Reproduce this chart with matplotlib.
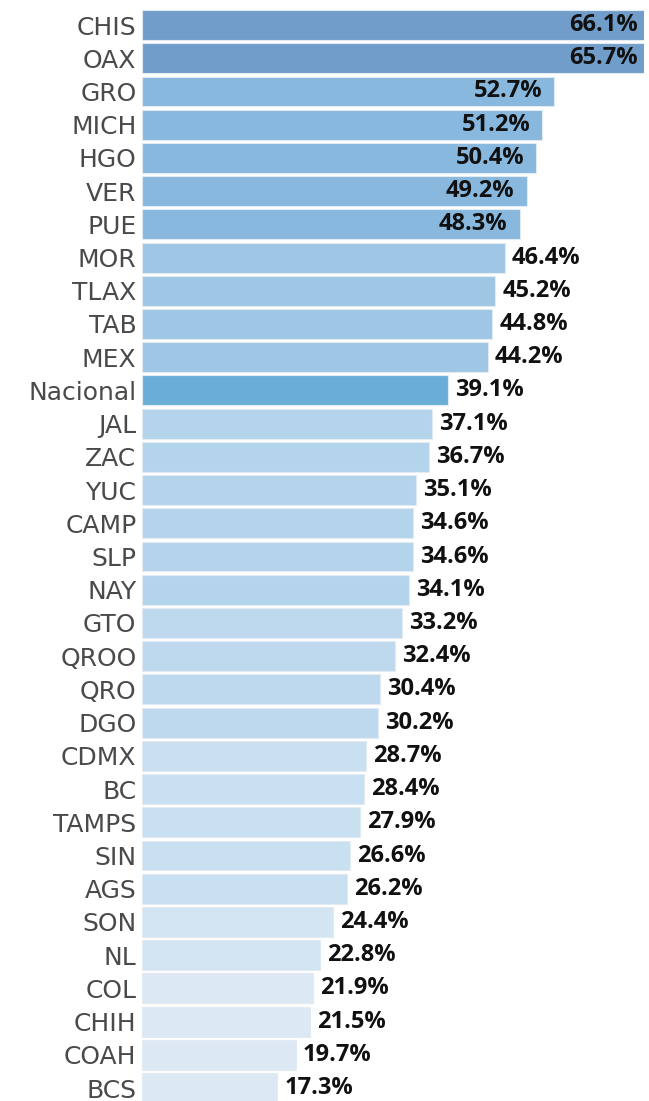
import matplotlib
matplotlib.use("Agg")
import matplotlib.pyplot as plt
import numpy as np

states = ["CHIS", "OAX", "GRO", "MICH", "HGO", "VER", "PUE", "MOR", "TLAX", "TAB", "MEX",
          "Nacional", "JAL", "ZAC", "YUC", "CAMP", "SLP", "NAY", "GTO", "QROO", "QRO", "DGO",
          "CDMX", "BC", "TAMPS", "SIN", "AGS", "SON", "NL", "COL", "CHIH", "COAH", "BCS"]
values = [66.1, 65.7, 52.7, 51.2, 50.4, 49.2, 48.3, 46.4, 45.2, 44.8, 44.2,
          39.1, 37.1, 36.7, 35.1, 34.6, 34.6, 34.1, 33.2, 32.4, 30.4, 30.2,
          28.7, 28.4, 27.9, 26.6, 26.2, 24.4, 22.8, 21.9, 21.5, 19.7, 17.3]
inside_count = 7

plt.rcParams['font.family'] = ['Open Sans', 'DejaVu Sans']

W, H = 649, 1101
fig = plt.figure(figsize=(W / 100, H / 100), dpi=100)
ax = fig.add_axes([142 / W, 0, (644 - 142) / W, 1])
XMAX = (644 - 142) / 7.82

def color_for(name, v):
    if name == "Nacional":
        return "#6aaed8"
    if v >= 60:
        return "#709dc9"
    if v >= 48:
        return "#88b8de"
    if v >= 40:
        return "#9fc6e4"
    if v >= 34:
        return "#b3d4eb"
    if v >= 30:
        return "#bed9ee"
    if v >= 26:
        return "#c9e0f1"
    if v >= 22:
        return "#d3e5f3"
    return "#dce9f5"

y = np.arange(len(states))
colors = [color_for(s, v) for s, v in zip(states, values)]
ax.barh(y, values, height=0.9, color=colors, edgecolor="#e3ebf2", linewidth=0.8)

for i, (s, v) in enumerate(zip(states, values)):
    label = f"{v:.1f}%"
    if i < inside_count:
        xe = min(v, XMAX)
        off = -6 if v > XMAX else -12
        ax.annotate(label, (xe, i), xytext=(off, 0), textcoords="offset pixels",
                    ha="right", va="center", fontsize=17, fontweight="bold", color="#111111")
    else:
        ax.annotate(label, (v, i), xytext=(7, 0), textcoords="offset pixels",
                    ha="left", va="center", fontsize=17, fontweight="bold", color="#111111")

ax.set_yticks(y)
ax.set_yticklabels(states, fontsize=18, color="#4a4a4a", family=["DejaVu Sans"])
ax.tick_params(axis="y", length=0, pad=4)
ax.set_xticks([])
ax.set_xlim(0, XMAX)
ax.set_ylim(32.39, -0.753)
for sp in ax.spines.values():
    sp.set_visible(False)

fig.savefig("out.png", dpi=100)
